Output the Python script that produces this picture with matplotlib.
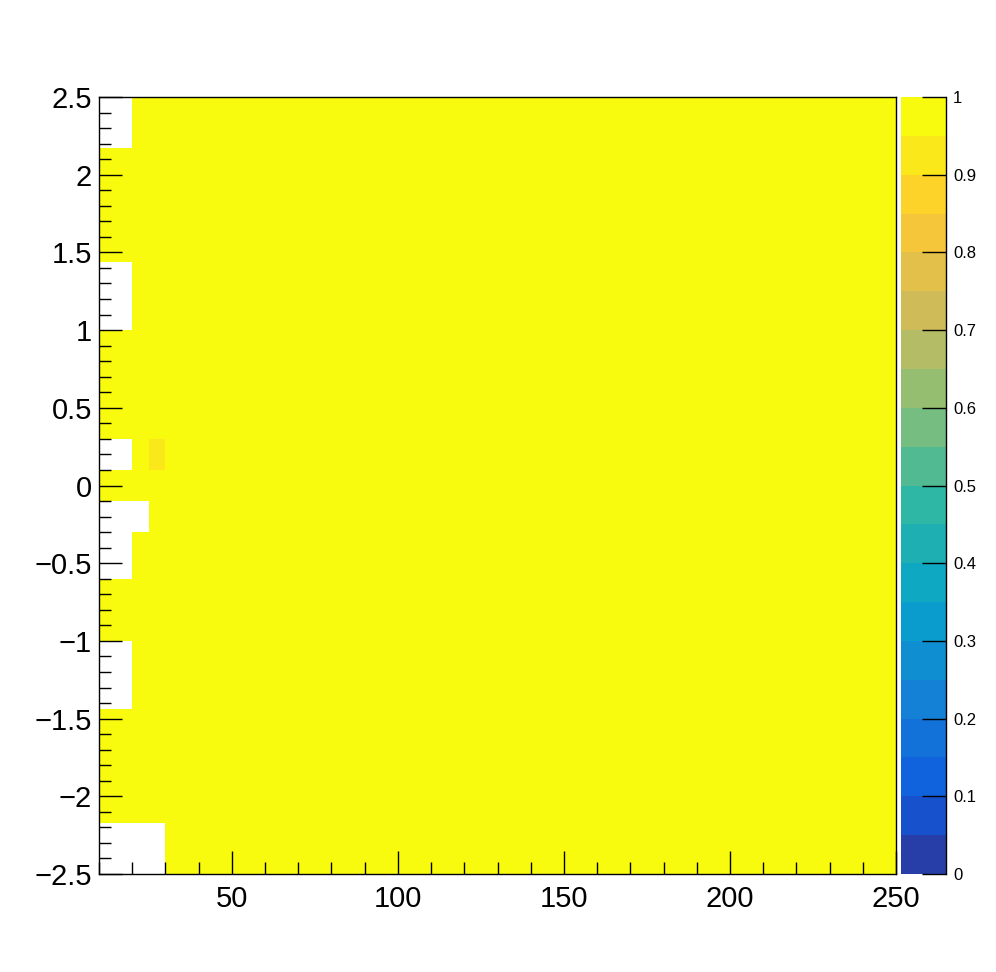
import numpy as np
import matplotlib
matplotlib.use("Agg")
import matplotlib.pyplot as plt
from matplotlib.colors import LinearSegmentedColormap, ListedColormap, Normalize
from matplotlib.ticker import MultipleLocator

plt.rcParams['font.family'] = ['Liberation Sans', 'DejaVu Sans']

# bin edges
x_edges = [10, 20, 25, 30, 50, 100, 150, 200, 250]
y_edges = [-2.5, -2.17, -1.8, -1.44, -1.0, -0.6, -0.3, -0.1, 0.1, 0.3, 0.6, 1.0, 1.44, 1.8, 2.17, 2.5]

# bin contents, one row per y bin (bottom to top); None = empty bin
N = None
z_rows = [
    [N, N, N, 1, 1, 1, 1, 1],
    [1, 1, 1, 1, 1, 1, 1, 1],
    [1, 1, 1, 1, 1, 1, 1, 1],
    [N, 1, 1, 1, 1, 1, 1, 1],
    [1, 1, 1, 1, 1, 1, 1, 1],
    [N, 1, 1, 1, 1, 1, 1, 1],
    [N, N, 1, 1, 1, 1, 1, 1],
    [1, 1, 1, 1, 1, 1, 1, 1],
    [N, 1, 0.93, 1, 1, 1, 1, 1],
    [1, 1, 1, 1, 1, 1, 1, 1],
    [1, 1, 1, 1, 1, 1, 1, 1],
    [N, 1, 1, 1, 1, 1, 1, 1],
    [1, 1, 1, 1, 1, 1, 1, 1],
    [1, 1, 1, 1, 1, 1, 1, 1],
    [N, 1, 1, 1, 1, 1, 1, 1],
]

# ROOT kBird palette, 20 contour levels
bird_r = [0.2082, 0.0592, 0.0780, 0.0232, 0.1802, 0.5301, 0.8186, 0.9956, 0.9764]
bird_g = [0.1664, 0.3599, 0.5041, 0.6419, 0.7178, 0.7492, 0.7328, 0.7862, 0.9832]
bird_b = [0.5293, 0.8684, 0.8385, 0.7914, 0.6425, 0.4662, 0.3499, 0.1968, 0.0539]
bird = LinearSegmentedColormap.from_list("bird", list(zip(bird_r, bird_g, bird_b)))
n_levels = 20
# same colour pick as ROOT for contour levels
cmap = ListedColormap([bird(min((i + 0.99) / n_levels, 1.0)) for i in range(n_levels)])

z = np.array([[np.nan if v is None else v for v in row] for row in z_rows], dtype=float)
z = np.ma.masked_invalid(z)

fig = plt.figure(figsize=(9.96, 9.72), dpi=100)
ax = fig.add_axes([0.0994, 0.1008, 0.8002, 0.7994])
cax = fig.add_axes([0.9046, 0.1008, 0.0452, 0.7994])

mesh = ax.pcolormesh(x_edges, y_edges, z, cmap=cmap, norm=Normalize(0, 1))
ax.set_xlim(10, 250)
ax.set_ylim(-2.5, 2.5)

ax.xaxis.set_major_locator(MultipleLocator(50))
ax.xaxis.set_minor_locator(MultipleLocator(10))
ax.yaxis.set_major_locator(MultipleLocator(0.5))
ax.yaxis.set_minor_locator(MultipleLocator(0.1))
ax.tick_params(which='both', direction='in', top=False, right=False, labelsize=21, width=1)
ax.tick_params(axis='x', which='major', length=16.5, pad=8)
ax.tick_params(axis='y', which='major', length=16.5, pad=5)
ax.tick_params(which='minor', length=8.5)
ax.yaxis.set_major_formatter(plt.FuncFormatter(lambda v, p: ("%g" % v).replace("-", "\u2212")))
for s in ax.spines.values():
    s.set_linewidth(1)

cb = fig.colorbar(mesh, cax=cax)
cb.outline.set_visible(False)
cb.set_ticks(np.arange(0, 1.01, 0.1))
cb.set_ticklabels(["%g" % t for t in np.round(np.arange(0, 1.01, 0.1), 1)])
cax.tick_params(direction='in', length=17, width=1, labelsize=12, pad=5)
cax.minorticks_off()
cax.plot([1, 1], [0, 1], transform=cax.transAxes, color='black', lw=1, clip_on=False)

fig.savefig("out.png", dpi=100)
